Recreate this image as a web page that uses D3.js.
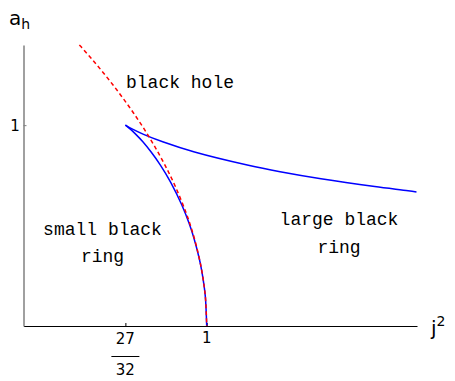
<!DOCTYPE html>
<html>
<head>
<meta charset="utf-8">
<script src="https://cdn.jsdelivr.net/npm/d3@7"></script>
<style>
  body { margin: 0; background: #fff; }
  svg { display: block; }
</style>
</head>
<body>
<div class="chart"></div>
<script>

// black hole branch (j^2, a_h)
var holeJ2 = [0.7553, 0.76, 0.78, 0.80, 0.82, 0.84, 0.86, 0.88, 0.90, 0.92, 0.94, 0.96, 0.97, 0.98, 0.99, 0.995, 0.998, 1.0];
var holeA  = [1.399, 1.386, 1.327, 1.265, 1.200, 1.131, 1.058, 0.980, 0.894, 0.800, 0.693, 0.566, 0.490, 0.400, 0.283, 0.200, 0.126, 0.0];

// small black ring branch
var smallJ2 = [0.84375, 0.8463, 0.8533, 0.8639, 0.8773, 0.8932, 0.9113, 0.9311, 0.9526, 0.9663, 0.9756, 0.9852, 0.9901, 0.9950, 0.99751, 1.0];
var smallA  = [1.0, 0.995, 0.980, 0.954, 0.917, 0.866, 0.800, 0.714, 0.600, 0.510, 0.436, 0.341, 0.280, 0.199, 0.141, 0.0];

// large black ring branch
var largeJ2 = [0.84375, 0.8468, 0.8575, 0.8787, 0.9154, 0.9766, 1.08, 1.141, 1.2195, 1.3228, 1.387, 1.403];
var largeA  = [1.0, 0.995, 0.980, 0.954, 0.917, 0.866, 0.800, 0.768, 0.733, 0.694, 0.673, 0.667];

var xTicks = [27/32, 1];
var yTicks = [1];

var width = 455, height = 381;

var x = d3.scaleLinear().domain([0.648, 1.404]).range([23.5, 417]);
var y = d3.scaleLinear().domain([0, 1.399]).range([326, 45]);

var svg = d3.select(".chart")
    .append("svg")
      .attr("width", width)
      .attr("height", height);

function toPoints(xs, ys) {
  return xs.map(function(d, i) { return [d, ys[i]]; });
}

var line = d3.line()
    .x(function(d) { return x(d[0]); })
    .y(function(d) { return y(d[1]); })
    .curve(d3.curveCatmullRom);

// AXES //
var xAxis = svg.append("g")
    .attr("transform", "translate(0," + y(0) + ")")
    .call(d3.axisBottom(x).tickValues(xTicks).tickSize(-3).tickSizeOuter(0).tickFormat(""));
xAxis.select(".domain").attr("stroke", "#000").attr("stroke-width", 1.2);
xAxis.selectAll(".tick line").attr("stroke", "#000");

var yAxis = svg.append("g")
    .attr("transform", "translate(" + x(0.648) + ",0)")
    .call(d3.axisLeft(y).tickValues(yTicks).tickSize(-3).tickSizeOuter(0).tickFormat(""));
yAxis.select(".domain").attr("stroke", "#808080").attr("stroke-width", 1.5);
yAxis.selectAll(".tick line").attr("stroke", "#808080");

// tick labels
svg.append("text")
    .attr("x", 15).attr("y", y(1) + 6)
    .attr("text-anchor", "middle")
    .style("font-family", "DejaVu Sans")
    .style("font-size", "15px")
    .text("1");

svg.append("text")
    .attr("x", x(1)).attr("y", 343)
    .attr("text-anchor", "middle")
    .style("font-family", "DejaVu Sans")
    .style("font-size", "15px")
    .text("1");

svg.append("text")
    .attr("x", x(27/32)).attr("y", 344)
    .attr("text-anchor", "middle")
    .style("font-family", "DejaVu Sans")
    .style("font-size", "15px")
    .text("27");
svg.append("line")
    .attr("x1", x(27/32) - 14).attr("x2", x(27/32) + 14)
    .attr("y1", 356.5).attr("y2", 356.5)
    .attr("stroke", "#000").attr("stroke-width", 1);
svg.append("text")
    .attr("x", x(27/32)).attr("y", 375)
    .attr("text-anchor", "middle")
    .style("font-family", "DejaVu Sans")
    .style("font-size", "15px")
    .text("32");

// axis labels
var aLab = svg.append("text")
    .attr("x", 9).attr("y", 25)
    .style("font-family", "DejaVu Sans")
    .style("font-size", "20px");
aLab.append("tspan").text("a");
aLab.append("tspan").attr("dy", 4).style("font-size", "14px").text("h");

var jLab = svg.append("text")
    .attr("x", 431).attr("y", 335)
    .style("font-family", "DejaVu Sans")
    .style("font-size", "20px");
jLab.append("tspan").text("j");
jLab.append("tspan").attr("dy", -9).style("font-size", "14px").text("2");

// CURVES //
svg.append("path")
    .attr("d", line(toPoints(smallJ2, smallA)))
    .style("fill", "none")
    .style("stroke", "#0000ff")
    .style("stroke-width", 1.5);

svg.append("path")
    .attr("d", line(toPoints(largeJ2, largeA)))
    .style("fill", "none")
    .style("stroke", "#0000ff")
    .style("stroke-width", 1.5);

svg.append("path")
    .attr("d", line(toPoints(holeJ2, holeA)))
    .style("fill", "none")
    .style("stroke", "#ff0000")
    .style("stroke-width", 1.5)
    .style("stroke-dasharray", "4,3");

// REGION LABELS //
var labels = [
  {text: "black hole", x: 180, y: 88},
  {text: "small black", x: 102.5, y: 235},
  {text: "ring", x: 102.5, y: 262},
  {text: "large black", x: 339, y: 225},
  {text: "ring", x: 339, y: 253}
];

svg.selectAll(".region")
  .data(labels)
  .enter().append("text")
    .attr("class", "region")
    .attr("x", function(d) { return d.x; })
    .attr("y", function(d) { return d.y; })
    .attr("text-anchor", "middle")
    .style("font-family", "Liberation Mono")
    .style("font-size", "18px")
    .text(function(d) { return d.text; });

</script>
</body>
</html>
